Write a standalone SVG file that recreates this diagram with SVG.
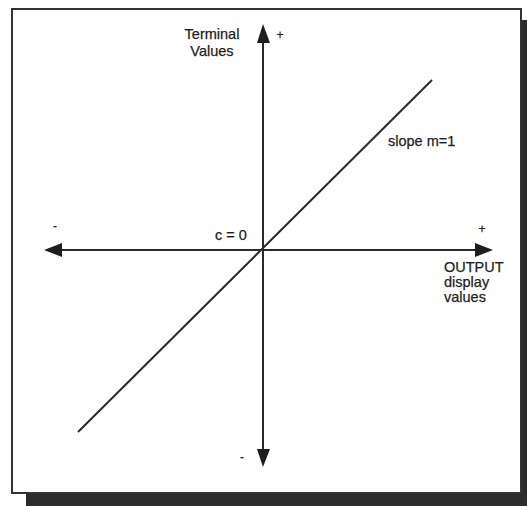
<svg xmlns="http://www.w3.org/2000/svg" width="527" height="506" viewBox="0 0 527 506">
<style>
.t{font-family:"Liberation Sans",Arial,sans-serif;font-size:14.5px;fill:#1e1e1e;stroke:#1e1e1e;stroke-width:0.25}
.ax{stroke:#2a2a2a;stroke-width:2;fill:none}
.ah{fill:#1e1e1e}
</style>
<rect width="527" height="506" fill="#fff"/>
<g id="frame">
<rect x="522" y="20" width="5" height="486" fill="#2b2b2b"/>
<rect x="26" y="494" width="501" height="12" fill="#2b2b2b"/>
<rect x="12" y="9" width="509" height="484" fill="#fff" stroke="#333" stroke-width="2"/>
</g>
<g id="connectors">
<line class="ax" x1="263" y1="40" x2="263" y2="452"/>
<line class="ax" x1="60" y1="250" x2="477" y2="250"/>
<line class="ax" x1="78" y1="432" x2="432" y2="80" stroke-width="2.4"/>
<polygon class="ah" points="263,24 257,43 270,43"/>
<polygon class="ah" points="263,467 257,449 270,449"/>
<polygon class="ah" points="44,250 62,243 62,257"/>
<polygon class="ah" points="493,250 475,243 475,257"/>
</g>
<g id="yaxis-label">
<text class="t" x="212" y="39" text-anchor="middle">Terminal</text>
<text class="t" x="212" y="56" text-anchor="middle">Values</text>
<text class="t" x="280" y="39" text-anchor="middle" style="font-size:12px">+</text>
<text class="t" x="242" y="461" text-anchor="middle" style="font-size:12px">-</text>
</g>
<g id="xaxis-label">
<text class="t" x="55" y="230" text-anchor="middle" style="font-size:12px">-</text>
<text class="t" x="482" y="233" text-anchor="middle" style="font-size:12px">+</text>
<text class="t" x="444" y="272">OUTPUT</text>
<text class="t" x="444" y="287">display</text>
<text class="t" x="444" y="302">values</text>
</g>
<g id="intercept">
<text class="t" x="215" y="240">c = 0</text>
</g>
<g id="slope">
<text class="t" x="388" y="146">slope  m=1</text>
</g>
</svg>
